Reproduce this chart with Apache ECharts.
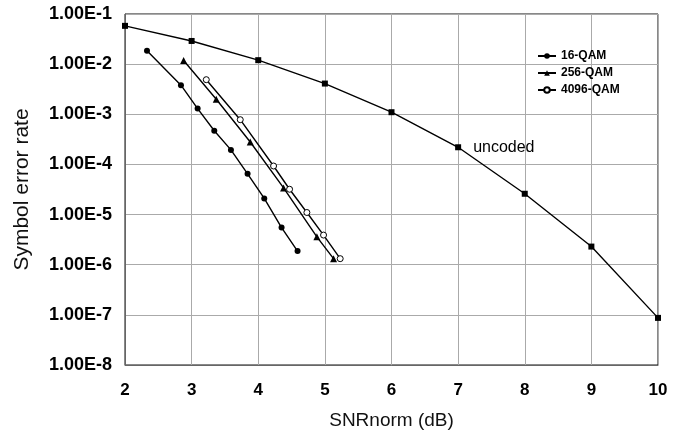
<!DOCTYPE html>
<html>
<head>
<meta charset="utf-8">
<script src="https://cdn.jsdelivr.net/npm/echarts@6/dist/echarts.min.js"></script>
<style>
  html, body { margin: 0; padding: 0; background: #fff; }
  #chart { width: 673px; height: 441px; }
</style>
</head>
<body>
<div id="chart"></div>
<script>
// values (x = SNRnorm dB, y = symbol error rate)
const qam16X = [2.33, 2.84, 3.09, 3.34, 3.59, 3.84, 4.09, 4.35, 4.59]
const qam16Y = [0.0184, 0.0038, 0.0013, 4.7e-4, 1.95e-4, 6.5e-5, 2.1e-5, 5.5e-6, 1.87e-6]
const qam256X = [2.88, 3.37, 3.88, 4.38, 4.88, 5.13]
const qam256Y = [0.0118, 0.002, 2.8e-4, 3.4e-5, 3.6e-6, 1.32e-6]
const qam4096X = [3.22, 3.73, 4.23, 4.47, 4.73, 4.98, 5.23]
const qam4096Y = [0.0049, 7.8e-4, 9.3e-5, 3.2e-5, 1.1e-5, 3.9e-6, 1.32e-6]
const uncodedX = [2, 3, 4, 5, 6, 7, 8, 9, 10]
const uncodedY = [0.058, 0.029, 0.012, 0.0041, 0.0011, 2.2e-4, 2.6e-5, 2.3e-6, 8.7e-8]
const uncodedLabelAt = 7

const pairs = (xs, ys) => xs.map((x, i) => [x, ys[i]])

const chart = echarts.init(document.getElementById('chart'))

const lineSeries = (name, xs, ys, symbol, size, extra) => Object.assign({
  name,
  type: 'line',
  data: pairs(xs, ys),
  symbol,
  symbolSize: size,
  showAllSymbol: true,
  animation: false,
  lineStyle: { color: '#000', width: 1.4 },
  itemStyle: { color: '#000', borderColor: '#000', borderWidth: 0 }
}, extra || {})

const option = {
  backgroundColor: '#fff',
  textStyle: { fontFamily: 'Liberation Sans, Arial, sans-serif' },
  grid: {
    left: 125,
    right: 15,
    top: 14,
    bottom: 76,
    show: true,
    borderColor: '#111',
    borderWidth: 1
  },
  legend: {
    data: ['16-QAM', '256-QAM', '4096-QAM'],
    orient: 'vertical',
    left: 532,
    top: 45,
    itemWidth: 18,
    itemHeight: 7,
    itemGap: 5,
    textStyle: { fontSize: 12, fontWeight: 'bold', color: '#000' }
  },
  xAxis: {
    type: 'value',
    min: 2,
    max: 10,
    interval: 1,
    name: 'SNRnorm (dB)',
    nameLocation: 'middle',
    nameGap: 46,
    nameTextStyle: { fontSize: 19, color: '#111' },
    axisLine: { onZero: false, lineStyle: { color: '#666', width: 1 } },
    axisTick: { show: false },
    axisLabel: { fontSize: 17, fontWeight: 'bold', color: '#000', margin: 17 },
    splitLine: { lineStyle: { color: '#aaa', width: 1 } }
  },
  yAxis: {
    type: 'log',
    logBase: 10,
    min: 1e-8,
    max: 1e-1,
    name: 'Symbol error rate',
    nameLocation: 'middle',
    nameGap: 92,
    nameTextStyle: { fontSize: 21, color: '#111' },
    axisLine: { lineStyle: { color: '#666', width: 1 } },
    axisTick: { show: false },
    axisLabel: {
      fontSize: 18,
      fontWeight: 'bold',
      color: '#000',
      margin: 13,
      formatter: v => '1.00E' + Math.round(Math.log10(v))
    },
    splitLine: { lineStyle: { color: '#aaa', width: 1 } },
    minorSplitLine: { show: false }
  },
  series: [
    lineSeries('uncoded', uncodedX, uncodedY, 'rect', 6, {
      label: {
        show: true,
        position: 'right',
        distance: 12,
        fontSize: 16,
        color: '#000',
        formatter: p => (p.value[0] === uncodedLabelAt ? 'uncoded' : '')
      }
    }),
    lineSeries('16-QAM', qam16X, qam16Y, 'circle', 6),
    lineSeries('256-QAM', qam256X, qam256Y, 'triangle', 7),
    lineSeries('4096-QAM', qam4096X, qam4096Y, 'circle', 6, {
      itemStyle: { color: '#fff', borderColor: '#000', borderWidth: 1 }
    })
  ]
}

chart.setOption(option)
</script>
</body>
</html>
